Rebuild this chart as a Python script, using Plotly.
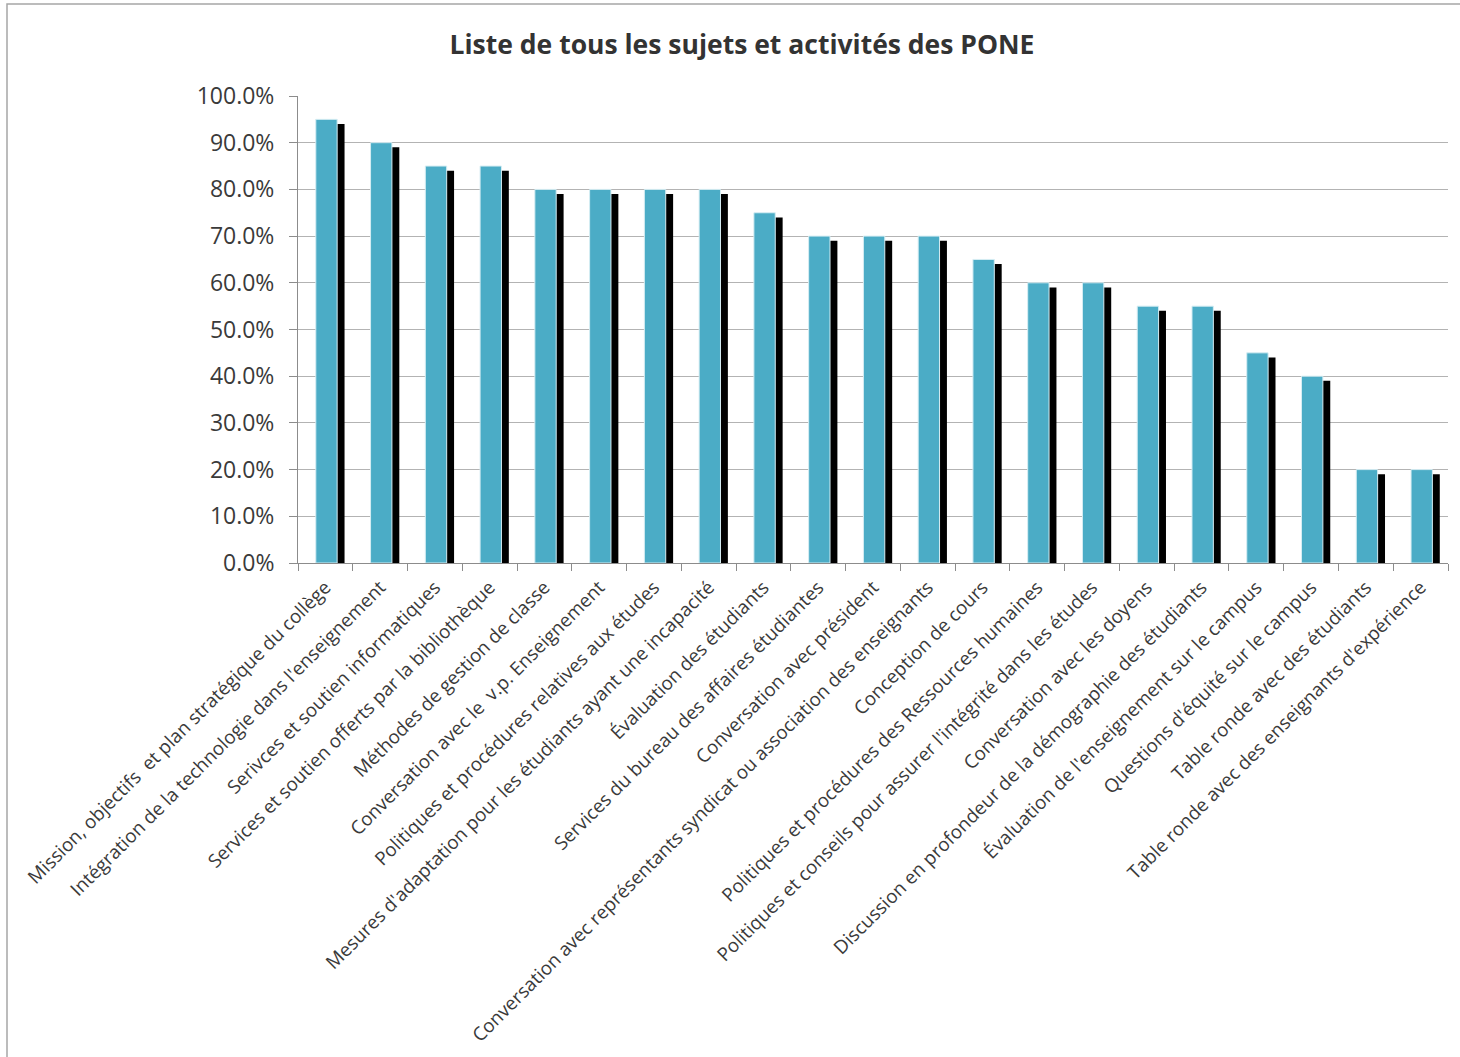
import plotly.graph_objects as go

categories = [
    "Mission, objectifs\u00a0 et plan stratégique du collège",
    "Intégration de la technologie dans l'enseignement",
    "Serivces et soutien informatiques",
    "Services et soutien offerts par la bibliothèque",
    "Méthodes de gestion de classe",
    "Conversation avec le\u00a0 v.p. Enseignement",
    "Politiques et procédures relatives aux études",
    "Mesures d'adaptation pour les étudiants ayant une incapacité",
    "Évaluation des étudiants",
    "Services du bureau des affaires étudiantes",
    "Conversation avec président",
    "Conversation avec représentants syndicat ou association des enseignants",
    "Conception de cours",
    "Politiques et procédures des Ressources humaines",
    "Politiques et conseils pour assurer l'intégrité dans les études",
    "Conversation avec les doyens",
    "Discussion en profondeur de la démographie des étudiants",
    "Évaluation de l'enseignement sur le campus",
    "Questions d'équité sur le campus",
    "Table ronde avec des étudiants",
    "Table ronde avec des enseignants d'expérience",
]

values = [0.95, 0.90, 0.85, 0.85, 0.80, 0.80, 0.80, 0.80, 0.75, 0.70, 0.70,
          0.70, 0.65, 0.60, 0.60, 0.55, 0.55, 0.45, 0.40, 0.20, 0.20]

# dark side of the 3D columns (slightly lower tops)
shadow_values = [0.94, 0.89, 0.84, 0.84, 0.79, 0.79, 0.79, 0.79, 0.74, 0.69, 0.69,
                 0.69, 0.64, 0.59, 0.59, 0.54, 0.54, 0.44, 0.39, 0.19, 0.19]

y_ticks = [0.0, 0.1, 0.2, 0.3, 0.4, 0.5, 0.6, 0.7, 0.8, 0.9, 1.0]

FONT = "Open Sans"
TXT = "#3a3a3a"

fig = go.Figure()
fig.add_trace(go.Bar(
    x=categories, y=shadow_values,
    offset=-0.09, width=0.44,
    marker=dict(color="#000000", line=dict(width=0)),
    hoverinfo="skip", showlegend=False,
))
fig.add_trace(go.Bar(
    x=categories, y=values,
    offset=-0.175, width=0.39,
    marker=dict(color="#4BACC6", line=dict(color="#d6edf3", width=1)),
    showlegend=False,
))

L, R, T, B = 298, 12, 96, 494
W, H = 1460, 1057
pw, ph = W - L - R, H - T - B

fig.update_layout(
    width=W, height=H,
    margin=dict(l=L, r=R, t=T, b=B, autoexpand=False),
    paper_bgcolor="white", plot_bgcolor="white",
    barmode="overlay",
    font=dict(family=FONT, color=TXT),
    title=dict(
        text="<b>Liste de tous les sujets et activités des PONE</b>",
        x=742 / W, xref="container", xanchor="center",
        y=1 - 45 / H, yref="container", yanchor="middle",
        font=dict(family=FONT, size=26.5, color="#333333"),
    ),
    xaxis=dict(
        type="category",
        tickangle=-45,
        tickson="boundaries",
        ticks="outside", ticklen=7, tickcolor="#8c8c8c",
        showline=True, linecolor="#8c8c8c", linewidth=1,
        showgrid=False,
        tickfont=dict(family=FONT, size=18.8, color=TXT),
        ticklabelstandoff=5,
        range=[-0.5, len(categories) - 0.5],
    ),
    yaxis=dict(
        range=[0, 1.0],
        tickvals=y_ticks,
        tickformat=".1%",
        ticks="outside", ticklen=8, tickcolor="#8c8c8c",
        showline=True, linecolor="#8c8c8c", linewidth=1,
        showgrid=True, gridcolor="#b3b3b3", gridwidth=1,
        zeroline=False,
        tickfont=dict(family=FONT, size=23, color=TXT),
        ticklabelstandoff=10,
    ),
    shapes=[dict(
        type="rect", xref="paper", yref="paper",
        x0=(7 - L) / pw, x1=(W + 30 - L) / pw,
        y0=(H - B - (H + 30)) / ph, y1=(H - B - 4) / ph,
        line=dict(color="#a6a6a6", width=1.5), fillcolor="rgba(0,0,0,0)",
        layer="above",
    )],
)

fig.write_html("out.html")
